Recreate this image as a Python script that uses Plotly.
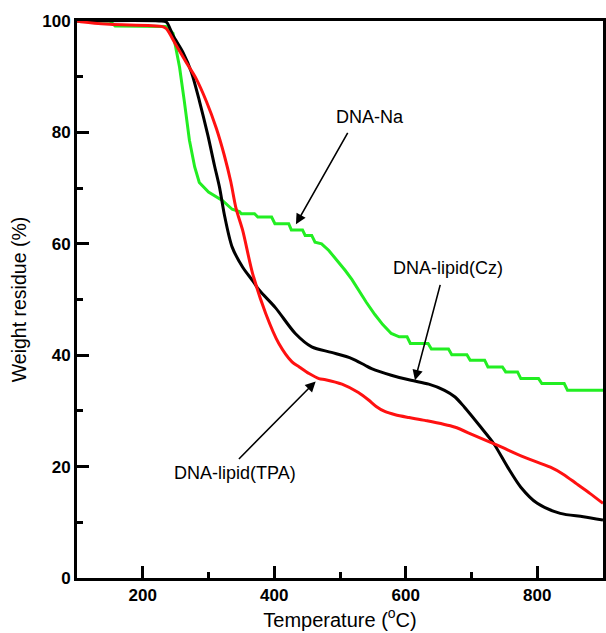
import plotly.graph_objects as go

# Thermogravimetric curves: temperature (°C) vs. weight residue (%)
na_temp = [100, 150, 158, 235, 246, 256, 263, 271, 279, 286, 300, 321, 336, 347, 350, 370, 375, 396,
           401, 422, 426, 443, 447, 457, 462, 472, 483, 498, 508, 518, 528, 540, 553, 565, 578, 590,
           602, 607, 634, 639, 665, 670, 693, 698, 720, 725, 747, 752, 770, 775, 802, 807, 841, 846,
           900]
na_weight = [100, 100, 99.1, 99.0, 97.8, 91.7, 85.8, 78.6, 73.8, 71.0, 69.3, 67.8, 66.2, 65.8, 65.4,
             65.4, 64.8, 64.8, 63.6, 63.6, 62.5, 62.5, 61.5, 61.5, 60.3, 60.0, 58.8, 56.7, 55.2, 53.6,
             51.7, 49.5, 47.3, 45.5, 43.9, 43.3, 43.3, 42.1, 42.1, 41.1, 41.1, 40.1, 40.1, 39.1, 39.1,
             37.9, 37.9, 37.0, 37.0, 35.8, 35.8, 34.9, 34.9, 33.7, 33.7]

cz_temp = [100, 225, 236, 246, 261, 274, 286.5, 299, 309, 317, 324, 336, 352, 367, 377, 402, 432,
           457, 487, 518, 538, 548, 578, 608, 635, 659, 675, 689, 714, 734, 755, 775, 800, 835, 870, 900]
cz_weight = [100, 100, 99.8, 97.4, 94.4, 90.8, 85.5, 79.5, 74.1, 70.0, 65.3, 59.4, 55.8, 53.4, 51.7,
             48.5, 43.9, 41.5, 40.5, 39.4, 38.2, 37.6, 36.4, 35.5, 34.8, 33.7, 32.5, 30.7, 27.1,
             24.1, 19.9, 16.3, 13.4, 11.6, 11.0, 10.4]

tpa_temp = [100, 110, 150, 230, 236, 251, 266, 281, 297, 312, 324, 334, 342, 352, 367, 387, 407, 427,
            438, 453, 468, 478, 503, 528, 543, 555, 568, 584, 605, 629, 674, 704, 740, 780, 820, 840,
            860, 880, 900]
tpa_weight = [100, 99.8, 99.4, 99.0, 98.6, 95.6, 92.6, 89.7, 85.5, 80.7, 75.9, 71.1, 66.3, 62.4, 54.7,
              47.5, 42.1, 38.8, 37.9, 36.7, 35.8, 35.6, 34.8, 33.3, 32.0, 30.8, 29.9, 29.3, 28.8, 28.3,
              27.1, 25.6, 23.8, 21.7, 19.9, 18.6, 16.9, 15.2, 13.4]

x_ticks = [200, 400, 600, 800]
x_minor = [300, 500, 700]
y_ticks = [0, 20, 40, 60, 80, 100]
y_minor = [10, 30, 50, 70, 90]

# Curve labels: (text, label x, label y, arrow tail x, tail y, arrow tip x, tip y)
labels = [
    ("DNA-Na", 546, 82.7, 513, 80.2, 433, 63.5),
    ("DNA-lipid(Cz)", 665, 55.6, 653, 52.9, 614, 35.5),
    ("DNA-lipid(TPA)", 341, 18.8, 344, 21.1, 463, 35.3),
]

fig = go.Figure()
fig.add_trace(go.Scatter(x=na_temp, y=na_weight, mode="lines", name="DNA-Na",
                         line=dict(color="#22ee22", width=3)))
fig.add_trace(go.Scatter(x=cz_temp, y=cz_weight, mode="lines", name="DNA-lipid(Cz)",
                         line=dict(color="#000000", width=3, shape="spline", smoothing=0.8)))
fig.add_trace(go.Scatter(x=tpa_temp, y=tpa_weight, mode="lines", name="DNA-lipid(TPA)",
                         line=dict(color="#ff1111", width=3, shape="spline", smoothing=0.8)))

for text, lx, ly, tx, ty, hx, hy in labels:
    fig.add_annotation(x=hx, y=hy, ax=tx, ay=ty, axref="x", ayref="y", xref="x", yref="y",
                       text="", showarrow=True, arrowhead=2, arrowsize=1.3, arrowwidth=1.6,
                       arrowcolor="black")
    fig.add_annotation(x=lx, y=ly, xref="x", yref="y", text=text, showarrow=False,
                       font=dict(family="Liberation Sans, Arial", size=18, color="black"))

axis_common = dict(
    showline=True, linecolor="black", linewidth=3, mirror=True,
    ticks="inside", ticklen=12, tickwidth=3, tickcolor="black",
    showgrid=False, zeroline=False,
    tickfont=dict(family="Liberation Sans, Arial", size=17, color="black", weight="bold"),
)

fig.update_xaxes(range=[100, 900], tickmode="array", tickvals=x_ticks,
                 minor=dict(ticks="inside", ticklen=6, tickwidth=3, tickcolor="black",
                            tickmode="array", tickvals=x_minor, showgrid=False),
                 title=dict(text="Temperature (<sup>o</sup>C)", standoff=4,
                            font=dict(family="Liberation Sans, Arial", size=20, color="black")),
                 **axis_common)
fig.update_yaxes(range=[0, 100], tickmode="array", tickvals=y_ticks,
                 minor=dict(ticks="inside", ticklen=6, tickwidth=3, tickcolor="black",
                            tickmode="array", tickvals=y_minor, showgrid=False),
                 title=dict(text="Weight residue (%)", standoff=11,
                            font=dict(family="Liberation Sans, Arial", size=19.5, color="black")),
                 **axis_common)

fig.update_layout(
    width=606, height=633,
    margin=dict(l=77, r=0, t=21, b=55),
    plot_bgcolor="white", paper_bgcolor="white",
    showlegend=False,
)

fig.write_html("out.html")
